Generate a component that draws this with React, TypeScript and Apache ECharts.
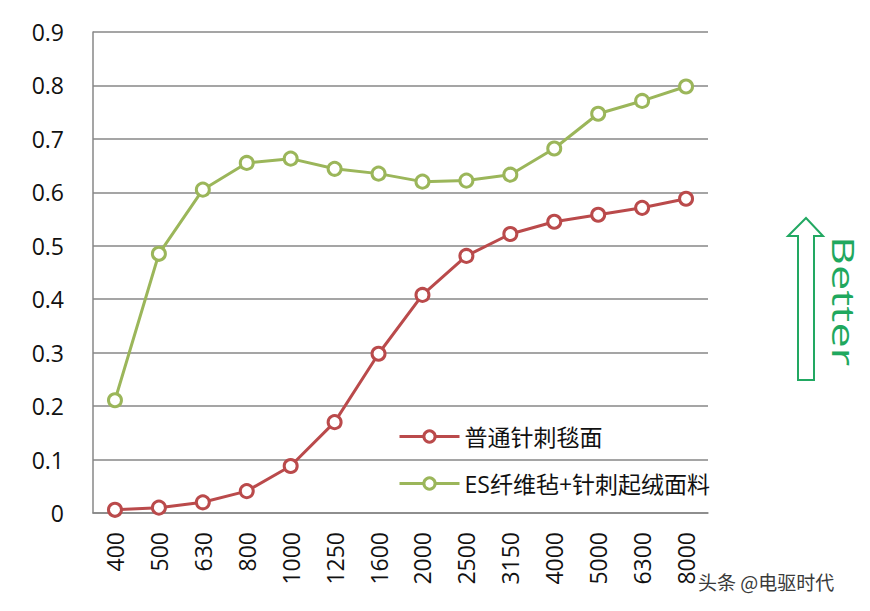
import React, { useEffect, useRef } from "react";
import * as echarts from "echarts";

const categories = ["400", "500", "630", "800", "1000", "1250", "1600", "2000", "2500", "3150", "4000", "5000", "6300", "8000"];
const seriesNames = ["普通针刺毯面", "ES纤维毡+针刺起绒面料"];
const redValues = [0.006, 0.01, 0.02, 0.041, 0.088, 0.17, 0.298, 0.408, 0.481, 0.522, 0.545, 0.558, 0.571, 0.588];
const greenValues = [0.211, 0.485, 0.605, 0.655, 0.663, 0.644, 0.635, 0.62, 0.622, 0.633, 0.682, 0.747, 0.771, 0.798];
const yTicks = { min: 0, max: 0.9, interval: 0.1 };

const FONT = "'Open Sans', 'Noto Sans CJK SC', sans-serif";

export default function App() {
  const ref = useRef<HTMLDivElement>(null);
  useEffect(() => {
    if (!ref.current) return;
    const chart = echarts.init(ref.current, null, { renderer: "svg" });
    const mk = (name: string, data: number[], color: string) => ({
      name,
      type: "line",
      data,
      symbol: "circle",
      symbolSize: 13,
      showSymbol: true,
      itemStyle: { color: "#ffffff", borderColor: color, borderWidth: 3 },
      lineStyle: { color, width: 3 },
    });
    chart.setOption({
      animation: false,
      backgroundColor: "#ffffff",
      grid: { left: 93, right: 162, top: 32, bottom: 98, containLabel: false },
      xAxis: {
        type: "category",
        data: categories,
        boundaryGap: true,
        axisLine: { show: true, lineStyle: { color: "#878787", width: 1.5 } },
        axisTick: { show: false },
        axisLabel: { rotate: 90, margin: 19, fontSize: 23, color: "#111", fontFamily: FONT, interval: 0 },
        splitLine: { show: false },
      },
      yAxis: {
        type: "value",
        min: yTicks.min,
        max: yTicks.max,
        interval: yTicks.interval,
        axisLine: { show: true, lineStyle: { color: "#878787", width: 1.5 } },
        axisTick: { show: false },
        axisLabel: {
          margin: 29,
          fontSize: 23,
          color: "#111",
          fontFamily: FONT,
          formatter: (v: number) => (Math.abs(v) < 1e-9 ? "0" : v.toFixed(1)),
        },
        splitLine: { show: true, lineStyle: { color: "#878787", width: 1.5 } },
      },
      legend: {
        show: true,
        orient: "vertical",
        left: 393,
        top: 420,
        itemWidth: 60,
        itemHeight: 14,
        itemGap: 24,
        lineStyle: { width: 3 },
        itemStyle: { borderWidth: 3 },
        textStyle: { fontSize: 23, lineHeight: 22, color: "#111", fontFamily: FONT },
        data: seriesNames,
      },
      series: [mk(seriesNames[0], redValues, "#BA4A4B"), mk(seriesNames[1], greenValues, "#9BB65A")],
      graphic: [
        {
          type: "polygon",
          shape: {
            points: [
              [806, 218],
              [823, 236],
              [814, 236],
              [814, 380],
              [798, 380],
              [798, 236],
              [788, 236],
            ],
          },
          style: { fill: "#ffffff", stroke: "#22A862", lineWidth: 2 },
        },
        {
          type: "text",
          x: 829,
          y: 236,
          rotation: -Math.PI / 2,
          scaleY: 0.7,
          style: {
            text: "Better",
            font: "45px 'Open Sans', sans-serif",
            fill: "#1FA85E",
            textAlign: "left",
            textVerticalAlign: "bottom",
          },
        },
        {
          type: "text",
          x: 698,
          y: 572,
          style: {
            text: "头条 @电驱时代",
            font: "19px 'Noto Sans CJK SC', sans-serif",
            fill: "#3a3a3a",
          },
        },
      ],
    });
    return () => chart.dispose();
  }, []);
  return <div ref={ref} style={{ width: 870, height: 611, position: "absolute", left: 0, top: 0 }} />;
}
